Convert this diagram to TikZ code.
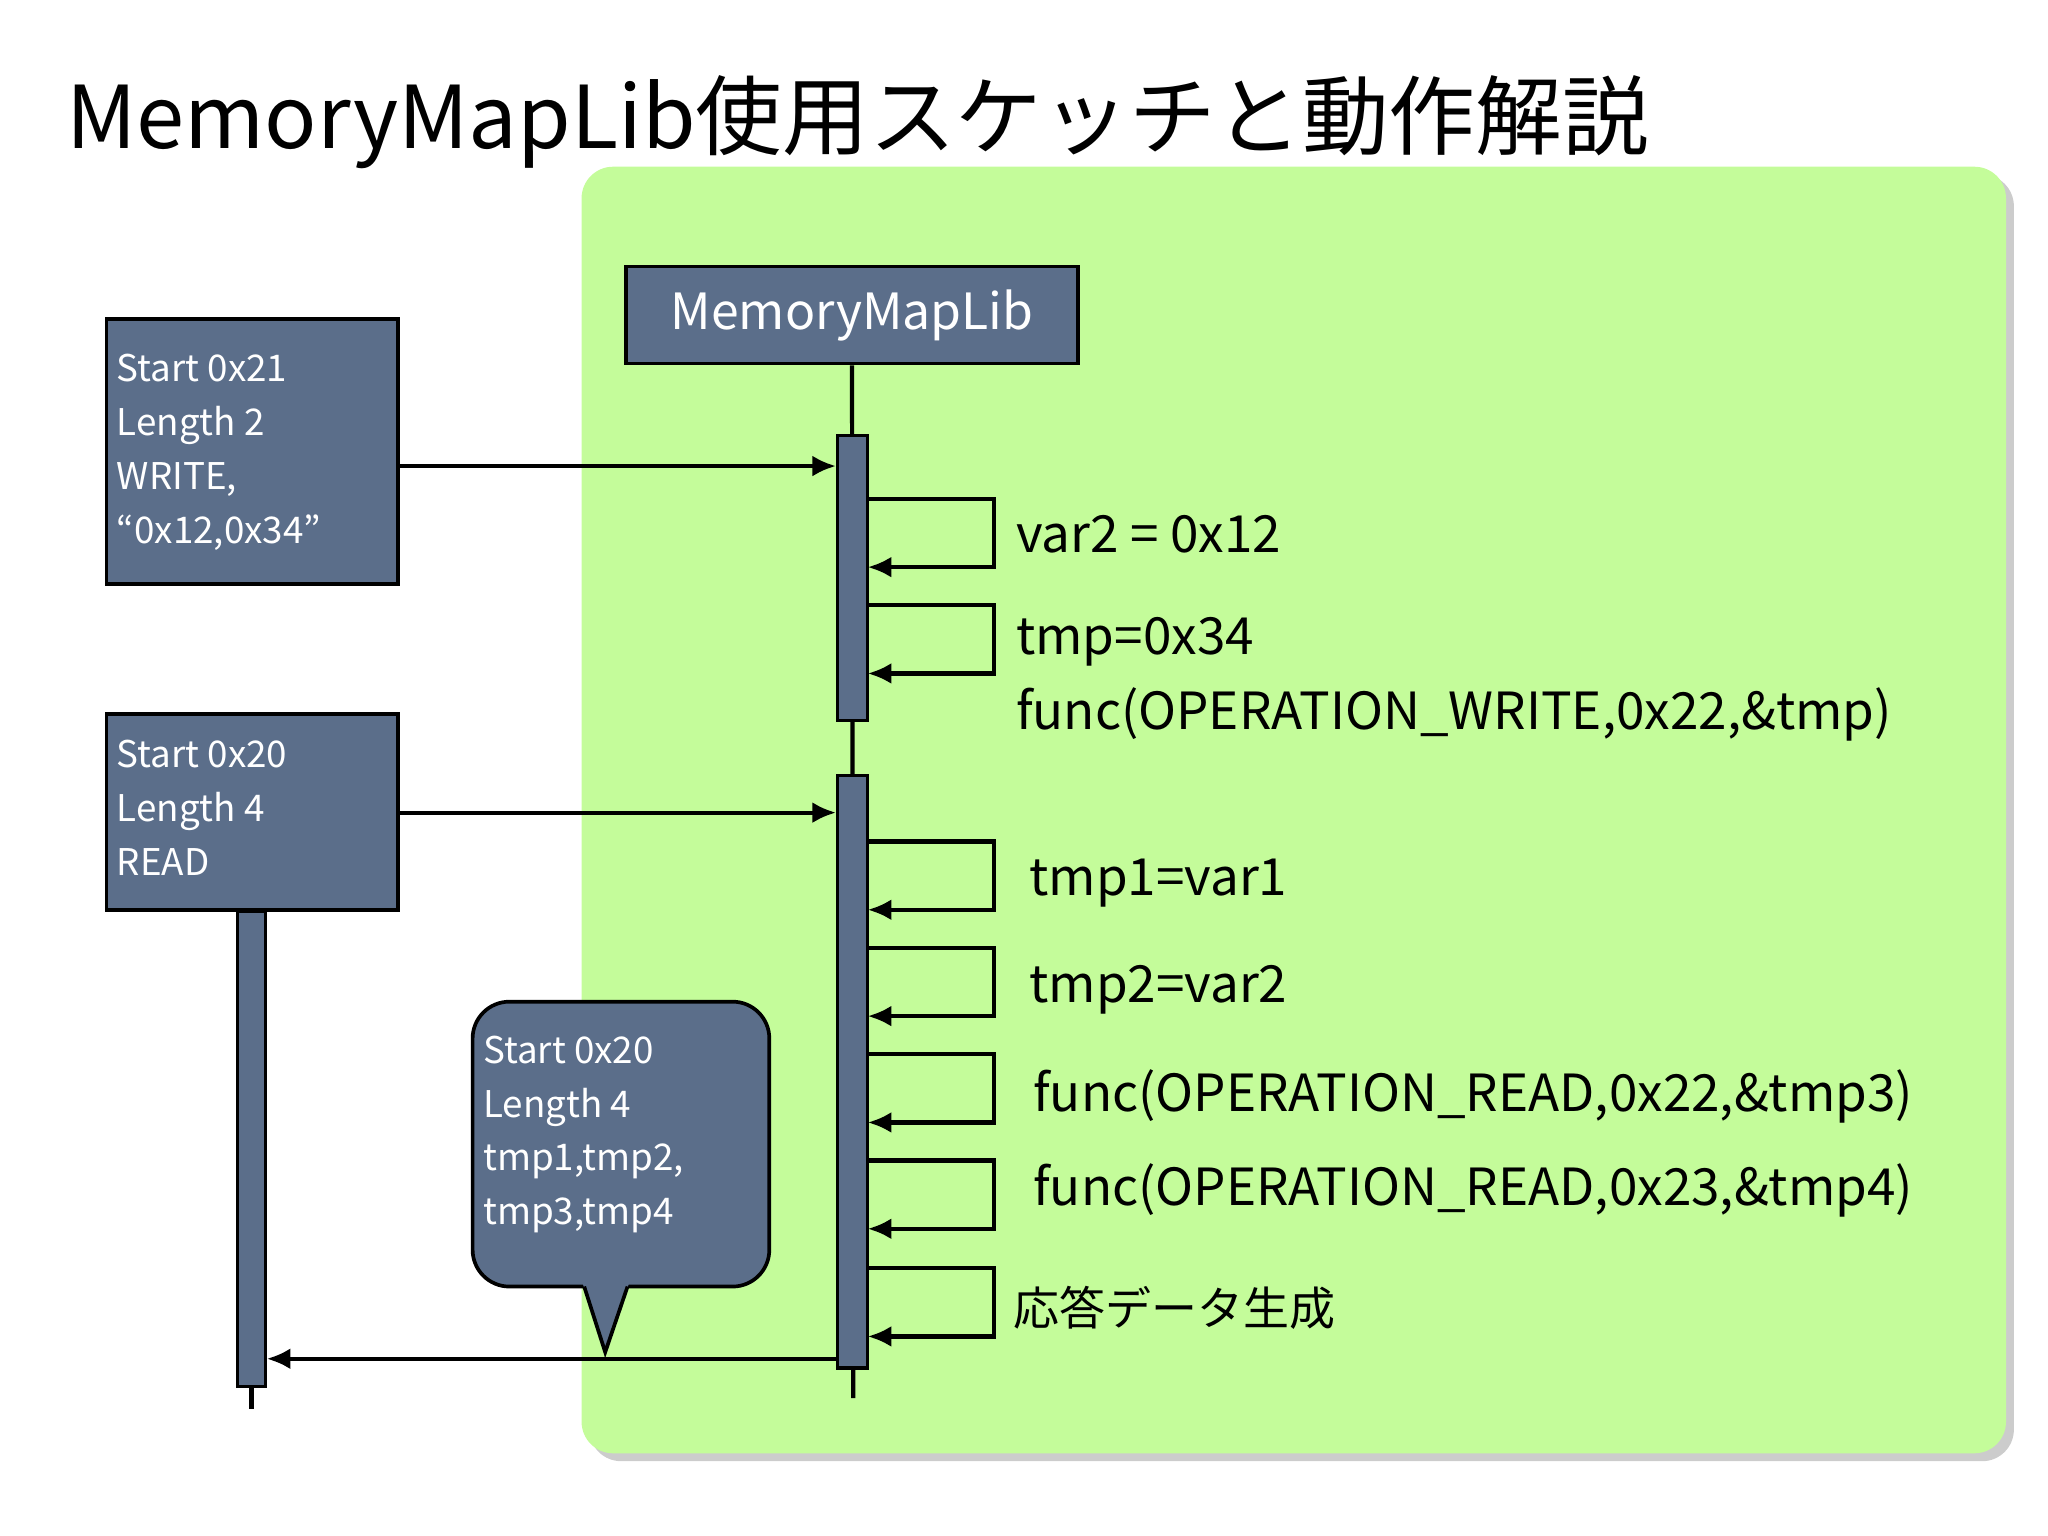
\documentclass[tikz,border=0pt]{standalone}
\usepackage{fontspec}
\setmainfont{Noto Sans CJK JP}
\usetikzlibrary{arrows.meta,shadows}
\definecolor{slate}{HTML}{5B6E8A}
\definecolor{lime}{HTML}{C4FC9A}
\begin{document}
\begin{tikzpicture}[x=0.5pt,y=-0.5pt,
  box/.style={draw=black,line width=1.4pt,fill=slate,text=white},
  bar/.style={draw=black,line width=1.2pt,fill=slate},
  msg/.style={line width=1.6pt,-{Latex[length=9pt,width=8pt]}},
  lbl/.style={anchor=west,font=\fontsize{19.5}{24}\selectfont},
  side/.style={anchor=north west,align=left,text=white,font=\fontsize{14}{20.5}\selectfont}]
\useasboundingbox (0,0) rectangle (1560,1170);
% title
\node[anchor=base west,font=\fontsize{33}{36}\selectfont,inner sep=0] (title) at (50,113) {MemoryMapLib使用スケッチと動作解説};
% green panel
\fill[lime,rounded corners=12pt,drop shadow={opacity=0.4,shadow xshift=3pt,shadow yshift=-3pt}] (443,127) rectangle (1528,1107);
% MemoryMapLib lifeline
\node[box,minimum width=172pt,minimum height=37pt,font=\fontsize{19}{24}\selectfont] (lib) at (649,240) {MemoryMapLib};
\coordinate (libend) at (650,1065);
\draw[line width=1.6pt] (lib.south) -- (libend);
\node[bar,minimum width=11.5pt,minimum height=108.5pt,inner sep=0] (b1) at (649.5,440.5) {};
\node[bar,minimum width=11.5pt,minimum height=225.5pt,inner sep=0] (b2) at (649.5,816.5) {};
% left boxes
\node[box,minimum width=111pt,minimum height=101pt,inner sep=0] (w) at (192,344) {};
\node[side] (wt) at (82,263) {Start 0x21\\Length 2\\WRITE,\\“0x12,0x34”};
\node[box,minimum width=111pt,minimum height=74.5pt,inner sep=0] (r) at (192,618.5) {};
\node[side] (rt) at (82,557) {Start 0x20\\Length 4\\READ};
\node[bar,minimum width=10.5pt,minimum height=181pt,inner sep=0,anchor=north] (lb) at (191.5,693) {};
\coordinate (lbend) at (191.5,1073);
\draw[line width=1.6pt] (lb.south) -- (lbend);
% messages
\draw[msg] (w.east |- 0,355) -- (b1.west |- 0,355);
\draw[msg] (r.east |- 0,619) -- (b2.west |- 0,619);
\draw[msg] (b2.west |- 0,1035) -- (lb.east |- 0,1035);
% callout
\draw[line width=1.4pt,fill=slate,rounded corners=14pt] (445,980) -- (360,980) -- (360,763) -- (586,763) -- (586,980) -- (478,980);
\fill[slate] (444,978) -- (461,1030) -- (479,978) -- cycle;
\draw[line width=1.4pt,line join=miter] (445,980) -- (461,1030) -- (478,980);
\node[side] (ct) at (361,782) {Start 0x20\\Length 4\\tmp1,tmp2,\\tmp3,tmp4};
% self calls
\foreach \t/\b/\nm in {380/432/s1,461/513/s2,641/693/s3,722/774/s4,803/855/s5,884/936/s6,966/1018/s7}{
  \coordinate (\nm a) at (661,\t);
  \coordinate (\nm b) at (661,\b);
  \draw[msg] (\nm a) -- (757,\t) -- (757,\b) -- (\nm b);
}
\node[lbl] (t1) at (767,407) {var2 = 0x12};
\node[lbl] (t2) at (767,489) {tmp=0x34};
\node[lbl] (t3) at (767,544) {func(OPERATION\_WRITE,0x22,\&tmp)};
\node[lbl] (t4) at (777,673) {tmp1=var1};
\node[lbl] (t5) at (777,754) {tmp2=var2};
\node[lbl] (t6) at (780,835) {func(OPERATION\_READ,0x22,\&tmp3)};
\node[lbl] (t7) at (780,907) {func(OPERATION\_READ,0x23,\&tmp4)};
\node[lbl,font=\fontsize{17.5}{22}\selectfont] (t8) at (765,996) {応答データ生成};
\end{tikzpicture}
\end{document}
